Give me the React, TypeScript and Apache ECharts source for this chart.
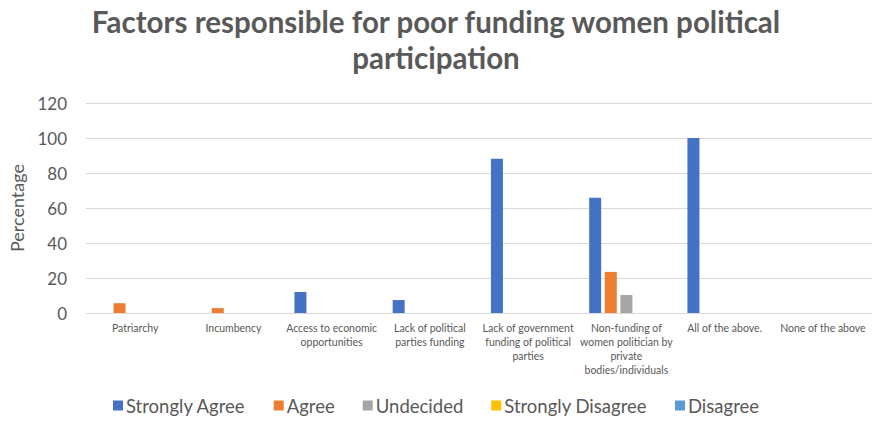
import React, { useEffect, useRef } from "react";
import * as echarts from "echarts";

const categories = [
  "Patriarchy",
  "Incumbency",
  "Access to economic\nopportunities",
  "Lack of political\nparties funding",
  "Lack of government\nfunding of political\nparties",
  "Non-funding of\nwomen politician by\nprivate\nbodies/individuals",
  "All of the above.",
  "None of the above",
];

const seriesNames = ["Strongly Agree", "Agree", "Undecided", "Strongly Disagree", "Disagree"];
const stronglyAgree = [0, 0, 12, 7.4, 88.2, 65.8, 100, 0];
const agree = [5.6, 2.8, 0, 0, 0, 23.5, 0, 0];
const undecided = [0, 0, 0, 0, 0, 10.3, 0, 0];
const stronglyDisagree = [0, 0, 0, 0, 0, 0, 0, 0];
const disagree = [0, 0, 0, 0, 0, 0, 0, 0];

const colors = ["#4472C4", "#ED7D31", "#A5A5A5", "#FFC000", "#5B9BD5"];
const FONT = "Lato, 'Open Sans', sans-serif";
const TEXT = "#595959";

export default function App() {
  const ref = useRef<HTMLDivElement>(null);
  useEffect(() => {
    if (!ref.current) return;
    const chart = echarts.init(ref.current, undefined, { renderer: "svg" });
    const data = [stronglyAgree, agree, undecided, stronglyDisagree, disagree];
    chart.setOption({
      animation: false,
      color: colors,
      textStyle: { fontFamily: FONT },
      title: {
        text: "Factors responsible for poor funding women political\nparticipation",
        left: "center",
        top: -2,
        textStyle: {
          fontFamily: FONT,
          fontSize: 29.5,
          fontWeight: "bold",
          color: TEXT,
          lineHeight: 36,
        },
      },
      legend: {
        bottom: 3,
        left: "center",
        itemWidth: 10,
        itemHeight: 10,
        itemGap: 28,
        icon: "rect",
        textStyle: { fontFamily: FONT, fontSize: 18.5, color: TEXT, padding: [0, 0, 0, -2] },
        data: seriesNames,
      },
      grid: { left: 83, top: 103, width: 790, height: 210, containLabel: false },
      xAxis: {
        type: "category",
        data: categories,
        axisLine: { lineStyle: { color: "#D9D9D9", width: 1 } },
        axisTick: { show: false },
        axisLabel: {
          interval: 0,
          fontFamily: FONT,
          fontSize: 10.5,
          color: TEXT,
          lineHeight: 14,
          margin: 8,
        },
      },
      yAxis: {
        type: "value",
        min: 0,
        max: 120,
        interval: 20,
        name: "Percentage",
        nameLocation: "middle",
        nameGap: 60,
        nameTextStyle: { fontFamily: FONT, fontSize: 18, color: TEXT },
        axisLine: { show: false },
        axisTick: { show: false },
        splitLine: { lineStyle: { color: "#D9D9D9", width: 1 } },
        axisLabel: { fontFamily: FONT, fontSize: 17, color: TEXT, margin: 19 },
      },
      series: seriesNames.map((name, i) => ({
        name,
        type: "bar",
        data: data[i],
        barWidth: 12,
        barGap: "30%",
        barCategoryGap: "25%",
        itemStyle: { color: colors[i] },
      })),
    });
    return () => chart.dispose();
  }, []);
  return (
    <div
      ref={ref}
      style={{ position: "fixed", left: 0, top: 0, width: 872, height: 423, background: "#fff" }}
    />
  );
}
